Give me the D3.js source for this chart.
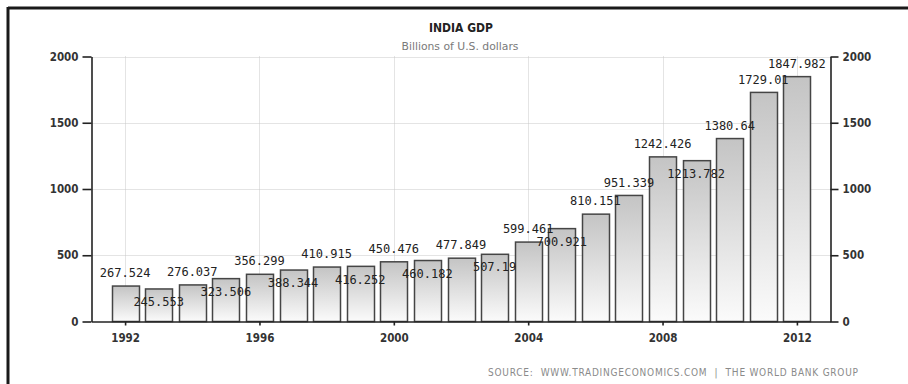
<!DOCTYPE html>
<html>
<head>
<meta charset="utf-8">
<script src="https://cdn.jsdelivr.net/npm/d3@7"></script>
<style>
  html, body { margin: 0; padding: 0; background: #fff; }
  svg { display: block; }
</style>
</head>
<body>
<svg id="chart" width="908" height="384"></svg>
<script>
// India GDP, billions of U.S. dollars
const years = [1992, 1993, 1994, 1995, 1996, 1997, 1998, 1999, 2000, 2001, 2002,
               2003, 2004, 2005, 2006, 2007, 2008, 2009, 2010, 2011, 2012];
const gdp = [267.524, 245.553, 276.037, 323.506, 356.299, 388.344, 410.915, 416.252,
             450.476, 460.182, 477.849, 507.19, 599.461, 700.921, 810.151, 951.339,
             1242.426, 1213.782, 1380.64, 1729.01, 1847.982];
const yTicks = [0, 500, 1000, 1500, 2000];
const xTicks = [1992, 1996, 2000, 2004, 2008, 2012];
const titleText = "INDIA GDP";
const subtitleText = "Billions of U.S. dollars";
const sourceText = "SOURCE:  WWW.TRADINGECONOMICS.COM  |  THE WORLD BANK GROUP";

const svg = d3.select("#chart");
const plotLeft = 91.5, plotRight = 830.5, plotTop = 56.5, plotBottom = 321.5;

const x = d3.scaleLinear().domain([1991, 2013]).range([plotLeft, plotRight]);
const y = d3.scaleLinear().domain([0, 2000]).range([plotBottom, plotTop]);
const barW = 27;

// frame
svg.append("line").attr("x1", 8).attr("x2", 908).attr("y1", 8).attr("y2", 8)
  .attr("stroke", "#1a1a1a").attr("stroke-width", 3);
svg.append("line").attr("x1", 8).attr("x2", 8).attr("y1", 7).attr("y2", 384)
  .attr("stroke", "#1a1a1a").attr("stroke-width", 3);

// gradient for bars
const defs = svg.append("defs");
const grad = defs.append("linearGradient").attr("id", "barFill")
  .attr("x1", 0).attr("y1", 0).attr("x2", 0).attr("y2", 1);
grad.append("stop").attr("offset", "0%").attr("stop-color", "#c4c4c4");
grad.append("stop").attr("offset", "100%").attr("stop-color", "#fbfbfb");

// titles
svg.append("text").attr("x", 461).attr("y", 32).attr("text-anchor", "middle")
  .attr("font-family", "DejaVu Sans Condensed, DejaVu Sans").attr("font-weight", "bold")
  .attr("font-size", 12).attr("fill", "#222").text(titleText);
svg.append("text").attr("x", 460).attr("y", 50).attr("text-anchor", "middle")
  .attr("font-family", "DejaVu Sans")
  .attr("font-size", 10.8).attr("fill", "#7a7a7a").text(subtitleText);

// grid
const grid = svg.append("g").attr("stroke", "#c8c8c8").attr("stroke-width", 1)
  .attr("stroke-dasharray", "1,1");
grid.selectAll("line.h").data(yTicks.filter(d => d > 0)).join("line")
  .attr("class", "h")
  .attr("x1", plotLeft).attr("x2", plotRight)
  .attr("y1", d => Math.round(y(d)) + 0.5).attr("y2", d => Math.round(y(d)) + 0.5);
grid.selectAll("line.v").data(xTicks).join("line")
  .attr("class", "v")
  .attr("x1", d => Math.round(x(d)) + 0.5).attr("x2", d => Math.round(x(d)) + 0.5)
  .attr("y1", plotTop).attr("y2", plotBottom);

// bars
svg.append("g").selectAll("rect").data(years).join("rect")
  .attr("x", (d) => Math.round(x(d) - barW / 2) + 0.5)
  .attr("y", (d, i) => y(gdp[i]))
  .attr("width", barW)
  .attr("height", (d, i) => plotBottom - y(gdp[i]))
  .attr("fill", "url(#barFill)")
  .attr("stroke", "#454545").attr("stroke-width", 1.5);

// axes
const axisFont = "DejaVu Sans Condensed, DejaVu Sans";
function styleAxis(g) {
  g.select(".domain").attr("stroke", "#222").attr("stroke-width", 1.6);
  g.selectAll(".tick line").attr("stroke", "#222").attr("stroke-width", 1.6);
  g.selectAll(".tick text").attr("font-family", axisFont).attr("font-weight", "bold")
    .attr("font-size", 11.5).attr("fill", "#333");
}
svg.append("g").attr("transform", `translate(${plotLeft},0)`)
  .call(d3.axisLeft(y).tickValues(yTicks).tickSize(9).tickSizeOuter(0).tickPadding(4).tickFormat(d3.format("d")))
  .call(styleAxis);
svg.append("g").attr("transform", `translate(${plotRight},0)`)
  .call(d3.axisRight(y).tickValues(yTicks).tickSize(8).tickSizeOuter(0).tickPadding(4).tickFormat(d3.format("d")))
  .call(styleAxis);
svg.append("g").attr("transform", `translate(0,${plotBottom})`)
  .call(d3.axisBottom(x).tickValues(xTicks).tickSize(4).tickSizeOuter(0).tickPadding(8).tickFormat(d3.format("d")))
  .call(styleAxis);

// value labels: above the bar top, unless that would collide with the
// previous label, in which case the label drops just inside the bar
const labelOffset = 13, labelHeight = 15.5;
const labelY = [];
gdp.forEach((v, i) => {
  const above = y(v) - labelOffset;
  if (i > 0 && Math.abs(above - labelY[i - 1]) < labelHeight) {
    labelY.push(y(v) + labelOffset);
  } else {
    labelY.push(above);
  }
});
svg.append("g").selectAll("text").data(years).join("text")
  .attr("x", d => x(d))
  .attr("y", (d, i) => labelY[i])
  .attr("dy", "0.35em")
  .attr("text-anchor", "middle")
  .attr("font-family", "DejaVu Sans Mono")
  .attr("font-size", 12)
  .attr("fill", "#222")
  .text((d, i) => String(gdp[i]));

// source line
svg.append("text").attr("x", 858).attr("y", 376).attr("text-anchor", "end")
  .attr("font-family", "DejaVu Sans Condensed, DejaVu Sans")
  .attr("font-size", 10).attr("fill", "#8a8a8a")
  .attr("textLength", 370).attr("lengthAdjust", "spacing")
  .style("white-space", "pre")
  .text(sourceText);
</script>
</body>
</html>
